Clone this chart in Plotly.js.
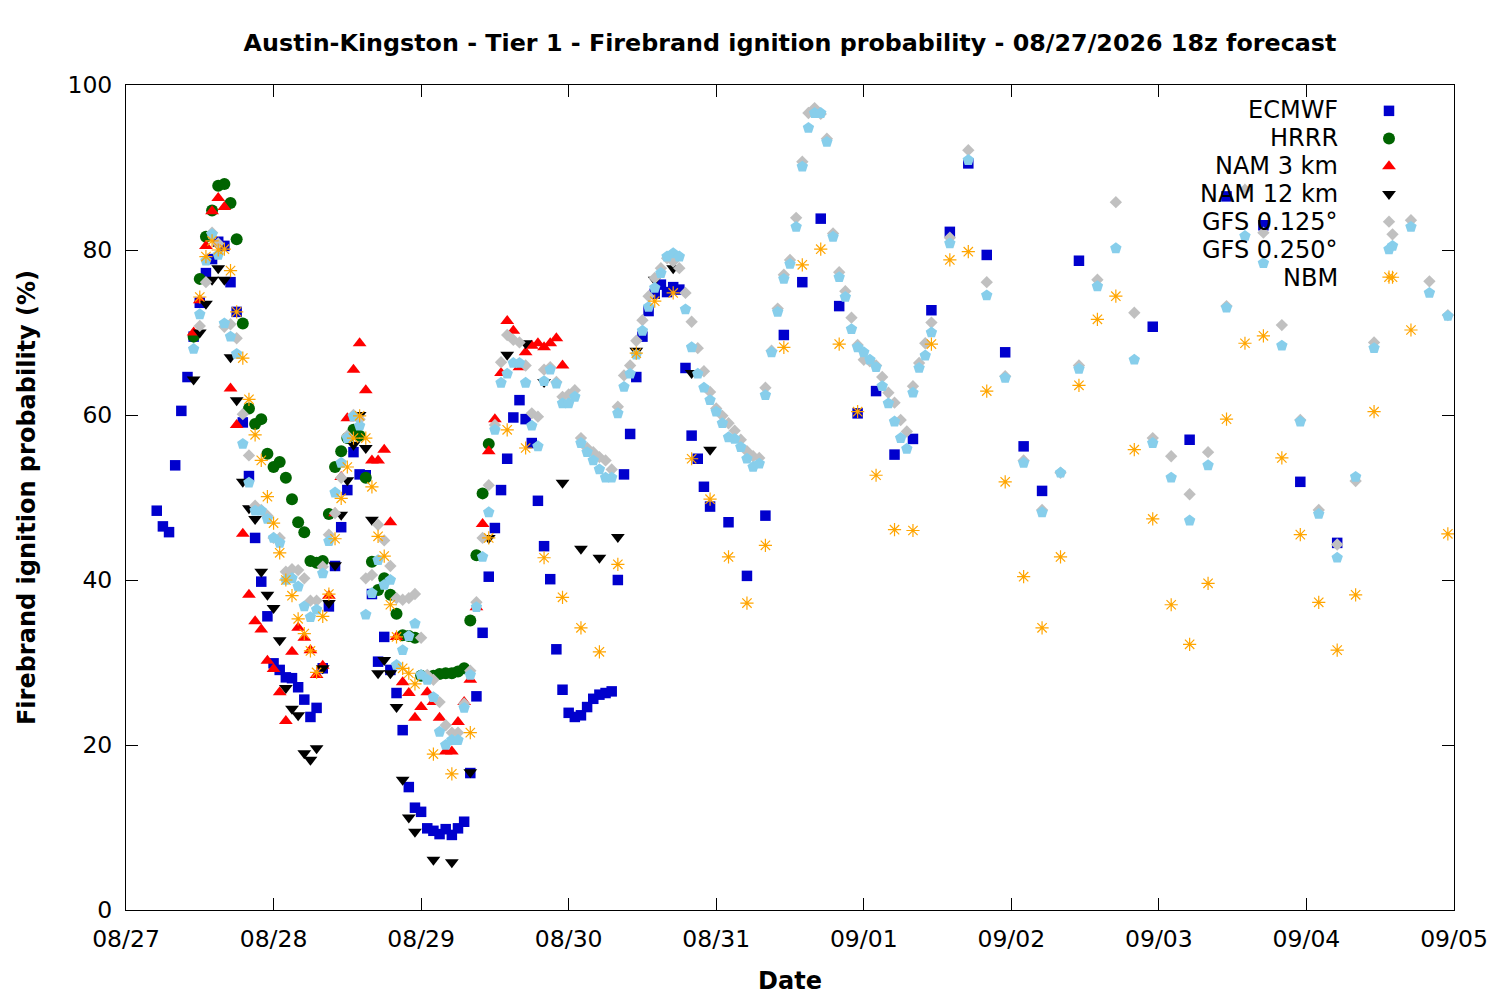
<!DOCTYPE html>
<html>
<head>
<meta charset="utf-8">
<script src="https://cdn.plot.ly/plotly-3.0.1.min.js"></script>
<style>
  body { margin: 0; background: #fff; }
  #chart { width: 1500px; height: 1000px; }
</style>
</head>
<body>
<div id="chart"></div>
<script>
// forecast hours are counted from 08/27 00z
let startDay = Date.UTC(2026, 7, 27);

let ecmwfHours = [5,6,7,8,9,10,11,12,13,14,15,16,17,18,19,20,21,22,23,24,25,26,27,28,29,30,31,32,33,34,
  35,36,37,38,39,40,41,42,43,44,45,46,47,48,49,50,51,52,53,54,55,56,57,58,59,60,61,62,63,64,
  65,66,67,68,69,70,71,72,73,74,75,76,77,78,79,80,81,82,83,84,85,86,87,88,89,90,91,92,93,94,95,
  98,101,104,107,110,113,116,119,122,125,128,131,134,137,140,143,146,149,155,167,173,179,185,191,197];
let ecmwfVals = [48.4,46.5,45.8,53.9,60.5,64.6,69.5,73.6,77.2,78.9,81,80.5,76.1,72.5,59.1,52.6,45.1,39.8,35.6,29.9,
  29.1,28.2,28.1,27,25.5,23.4,24.5,29.3,36.8,41.7,46.4,50.9,55.5,52.8,52.7,38.3,30.1,33.1,29.1,26.3,
  21.8,14.9,12.4,11.9,9.9,9.6,9.2,9.8,9.1,9.9,10.7,16.6,25.9,33.6,40.4,46.3,50.9,54.7,59.7,61.8,
  59.5,56.6,49.6,44.1,40.1,31.6,26.7,23.9,23.4,23.6,24.6,25.6,26.1,26.3,26.5,40,52.8,57.7,64.6,69.5,
  72.6,74.7,75.8,74.9,75.5,75.2,65.7,57.5,54.7,51.3,48.9,
  47,40.5,47.8,69.7,76.1,83.8,73.2,60.2,62.9,55.2,57.1,72.7,82.2,90.5,79.4,67.6,56.2,50.8,78.7,70.7,57,86.5,83,51.9,44.5];

let hrrrHours = [11,12,13,14,15,16,17,18,19,20,21,22,23,24,25,26,27,28,29,30,31,32,33,34,35,36,37,38,39,40,
  41,42,43,44,45,46,47,48,49,50,51,52,53,54,55,56,57,58,59];
let hrrrVals = [69.5,76.5,81.6,84.8,87.8,88,85.7,81.3,71.1,60.8,58.9,59.5,55.3,53.7,54.3,52.4,49.8,47,45.8,42.3,
  42.1,42.3,48,53.7,55.6,57.2,58.2,57.5,52.4,42.2,38.8,40.2,38.2,35.9,33.3,33.2,33,28.4,28.3,28.4,
  28.6,28.7,28.7,28.9,29.3,35.1,43,50.5,56.5];

let nam3Hours = [11,12,13,14,15,16,17,18,19,20,21,22,23,24,25,26,27,28,29,30,31,32,33,34,35,36,37,38,39,40,
  41,42,43,44,45,46,47,48,49,50,51,52,53,54,55,56,57,58,59,60,61,62,63,64,65,66,67,68,69,70,71];
let nam3Vals = [70,73.9,80.5,84.7,86.3,85.2,63.2,58.8,45.6,38.2,35,34,30.2,29.2,26.4,22.9,31.3,34.2,33,31.5,
  28.5,29.6,38.1,48.1,52.5,59.6,65.5,68.7,63,54.5,54.5,55.8,47,33.1,27.6,26.3,23.3,24.6,26.4,25.2,
  23.3,19.2,19.2,22.8,25.2,27.9,36.7,46.8,55.6,59.5,65.1,71.4,70.2,65.8,67.6,68.4,68.7,68.2,68.7,69.3,66];

let nam12Hours = [11,12,13,14,15,16,17,18,19,20,21,22,23,24,25,26,27,28,29,30,31,32,33,34,35,36,37,38,39,40,
  41,42,43,44,45,46,47,50,53,56,59,62,65,68,71,74,77,80,83,86,89,92,95];
let nam12Vals = [64.3,70,73.5,76.4,77.8,76.4,67,61.8,51.9,48.7,47.4,41,38.2,36.6,32.7,26.9,24.4,23.6,19,18.2,
  19.6,29.3,37.2,41.8,47.9,52.1,56.4,60,56,47.3,28.7,30.3,28.7,24.6,15.8,11.2,9.5,
  6.1,5.8,16.7,45.1,67.3,68.7,64,51.8,43.8,42.7,45.2,67.8,76.4,77.8,65.1,55.8];

let gfs125Hours = [12,13,14,15,16,17,18,19,20,21,22,23,24,25,26,27,28,29,30,31,32,33,34,35,36,37,38,39,40,41,
  42,43,44,45,46,47,48,49,50,51,52,53,54,55,56,57,58,59,60,61,62,63,64,65,66,67,68,69,70,71,
  72,73,74,75,76,77,78,79,80,81,82,83,84,85,86,87,88,89,90,91,92,93,94,95,96,97,98,99,100,101,
  102,103,104,105,106,107,108,109,110,111,112,113,114,115,116,117,118,119,120,121,122,123,124,125,126,127,128,129,130,131,
  134,137,140,143,146,149,152,155,158,161,164,167,170,173,176,179,182,185,188,191,194,197,200,203,206,209,212,215];
let gfs125Vals = [70.8,76.1,82.1,80.8,70.7,71,69.3,60.1,55.1,49,48.5,47.8,45.1,45.1,41,41.3,41.2,40.2,37.5,37.5,
  41.6,45.5,48.1,52.4,57.5,60,59.5,40.2,40.6,46.7,44.8,41.7,37.8,37.6,37.8,38.3,33,28.5,27.9,25.2,
  22.4,21.5,21.5,25,29,37.3,45.1,51.5,58.8,66.4,69.7,69.1,68.8,66,60.2,59.8,65.5,65.8,64,62.2,
  62.5,63,57.2,56,55.5,54.9,54.5,53.4,61,64.8,66,69,71.5,74.4,76.6,77.8,79,78.6,77.8,74.8,
  71.3,68.1,65.3,62.8,60.8,59.9,59,58.1,57,55.6,55,54.8,63.3,67.8,72.9,77,78.8,83.9,90.7,96.6,
  97.2,96.5,93.5,82,77.3,75,71.8,68.5,66.7,66.5,66,64.6,62.7,61.5,59.4,58,63.5,66.3,68.7,71.2,
  81.5,92.1,76.1,64.7,54.5,48.5,53,66,76.4,85.8,72.4,57.2,55,50.4,55.5,73.2,87.3,82.1,70.9,59.4,
  48.5,44.3,52,68.8,81.9,83.6,76.2,72.1];

let gfs250Hours = [11,12,13,14,15,16,17,18,19,20,21,22,23,24,25,26,27,28,29,30,31,32,33,34,35,36,37,38,39,40,
  41,42,43,44,45,46,47,48,49,50,51,52,53,54,55,56,57,58,59,60,61,62,63,64,65,66,67,68,69,70,
  71,72,73,74,75,76,77,78,79,80,81,82,83,84,85,86,87,88,89,90,91,92,93,94,95,96,97,98,99,100,
  101,102,103,104,105,106,107,108,109,110,111,112,113,114,115,116,117,118,119,120,121,122,123,124,125,126,127,128,129,130,131,
  134,137,140,143,146,149,152,155,158,161,164,167,170,173,176,179,182,185,188,191,194,197,200,203,206,209,212,215];
let gfs250Vals = [68,72.2,78.7,81.9,79.4,71.1,69.5,67.4,56.5,51.8,48.4,48.4,47.4,45.1,44.5,40,40.2,39.2,36.8,35.5,
  36.4,40.8,44.7,50.6,54.2,57.2,59.8,58.7,35.8,38.4,42.4,39.4,40,29.7,31.5,33.2,34.7,28.5,27.9,25.8,
  21.6,20,20.6,20.6,24.5,28.5,36.7,42.8,48.2,58.2,63.9,65,66.3,66.3,63.9,58.7,56.2,64.1,65.5,63.8,
  61.4,61.4,62.2,56.6,55.5,54.5,53.4,52.4,52.4,60.2,63.4,65,67.3,70.2,73.1,75.4,77.2,79.2,79.6,79.2,
  72.8,68.2,65,63.3,61.8,60.4,59,57.3,57.1,56.1,54.7,53.7,54.1,62.4,67.6,72.5,76.5,78.3,82.8,90.1,
  94.8,96.6,96.6,93.1,81.6,76.7,74.3,70.4,68.2,67.6,66.7,65.8,63.5,61.4,59.2,57.2,55.9,62.7,65.7,67.2,70,
  80.8,90.9,74.5,64.5,54.2,48.2,53,65.6,75.6,80.2,66.7,56.6,52.4,47.2,53.9,73,81.7,78.4,68.4,59.2,
  48,42.7,52.5,68.1,80.5,82.8,74.8,72];

let nbmHours = [12,13,14,15,16,17,18,19,20,21,22,23,24,25,26,27,28,29,30,31,32,33,34,35,36,37,38,39,40,41,
  42,43,44,45,46,47,50,53,56,59,62,65,68,71,74,77,80,83,86,89,92,95,98,101,104,107,110,113,116,119,
  122,125,128,131,134,137,140,143,146,149,152,155,158,161,164,167,170,173,176,179,182,185,188,191,194,197,200,203,206,209,215];
let nbmVals = [74.3,79.2,81.1,80,80.1,77.5,72.5,66.9,61.9,57.6,54.5,50.1,46.9,43.3,40,38.1,35.3,33.5,31.4,28.8,
  35.6,38.3,45,49.9,53.7,57.2,59.9,57.2,51.3,45.3,42.9,37,33.1,29.3,28.7,27.4,
  18.9,16.5,21.5,45.1,58.2,56,42.7,37.9,34.2,31.3,41.9,67.5,73.8,74.8,54.7,49.8,42.8,37.2,44.2,68.2,78.2,80.1,68.6,60.4,
  52.7,46.1,46,68.6,78.8,79.8,62.9,51.9,40.4,34.2,42.8,63.6,71.6,74.4,55.8,47.4,37,32.2,39.6,59.5,68.7,69.6,54.8,45.5,
  37.3,31.5,38.2,60.4,76.7,70.3,45.6];

let seriesNames = ["ECMWF", "HRRR", "NAM 3 km", "NAM 12 km", "GFS 0.125°", "GFS 0.250°", "NBM"];

function toTime(hours) {
  return hours.map(h => startDay + h * 3600000);
}

let font = "DejaVu Sans, Verdana, sans-serif";

let data = [
  {x: toTime(ecmwfHours), y: ecmwfVals, marker: {symbol: "square", size: 10.5, color: "#0000cd"}},
  {x: toTime(hrrrHours), y: hrrrVals, marker: {symbol: "circle", size: 12, color: "#006400"}},
  {x: toTime(nam3Hours), y: nam3Vals, marker: {symbol: "triangle-up", size: 12, color: "#ff0000"}},
  {x: toTime(nam12Hours), y: nam12Vals, marker: {symbol: "triangle-down", size: 12, color: "#000000"}},
  {x: toTime(gfs125Hours), y: gfs125Vals, marker: {symbol: "diamond", size: 9.5, color: "#c0c0c0"}},
  {x: toTime(gfs250Hours), y: gfs250Vals, marker: {symbol: "pentagon", size: 12, color: "#87ceeb"}},
  {x: toTime(nbmHours), y: nbmVals, marker: {symbol: "asterisk-open", size: 11, color: "#ffa500", line: {color: "#ffa500", width: 1.2}}}
];
data.forEach((t, i) => {
  t.type = "scatter";
  t.mode = "markers";
  t.name = " ";
  t.hovertext = seriesNames[i];
});

// gnuplot style key: name on the left, right aligned, symbol on the right
let annotations = seriesNames.map((n, i) => ({
  text: n,
  xref: "paper", yref: "paper",
  x: (1340 - 126) / 1328, y: (910 - (110 + 28 * i)) / 825,
  xanchor: "right", yanchor: "middle",
  showarrow: false,
  font: {family: font, size: 24, color: "#000"}
}));

let axisStyle = {
  showline: true, linecolor: "#000", linewidth: 1, mirror: "ticks",
  ticks: "inside", ticklen: 12, tickwidth: 1, tickcolor: "#000",
  showgrid: false, zeroline: false,
  tickfont: {family: font, size: 23.5, color: "#000"}
};

let layout = {
  width: 1500, height: 1000,
  margin: {l: 126, r: 46, t: 85, b: 90},
  paper_bgcolor: "#fff", plot_bgcolor: "#fff",
  title: {
    text: "<b>Austin-Kingston - Tier 1 - Firebrand ignition probability - 08/27/2026 18z forecast</b>",
    x: 0.5, xref: "paper", xanchor: "center",
    y: 1 - 43 / 1000, yref: "container", yanchor: "middle",
    font: {family: font, size: 23.8, color: "#000"}
  },
  xaxis: Object.assign({}, axisStyle, {
    type: "date",
    range: [startDay, startDay + 9 * 86400000],
    tick0: startDay, dtick: 86400000,
    tickformat: "%m/%d",
    ticklabelstandoff: 8,
    title: {text: "<b>Date</b>", font: {family: font, size: 24, color: "#000"}, standoff: 19}
  }),
  yaxis: Object.assign({}, axisStyle, {
    range: [0, 100], dtick: 20,
    ticklabelstandoff: 8,
    title: {text: "<b>Firebrand ignition probability (%)</b>", font: {family: font, size: 24, color: "#000"}, standoff: 25}
  }),
  showlegend: true,
  legend: {
    x: (1369 - 126) / 1328, xanchor: "left",
    y: (910 - 92) / 825, yanchor: "top",
    bgcolor: "rgba(0,0,0,0)", borderwidth: 0,
    font: {family: font, size: 19},
    itemwidth: 30
  },
  annotations: annotations
};

Plotly.newPlot("chart", data, layout, {displayModeBar: false});
</script>
</body>
</html>
